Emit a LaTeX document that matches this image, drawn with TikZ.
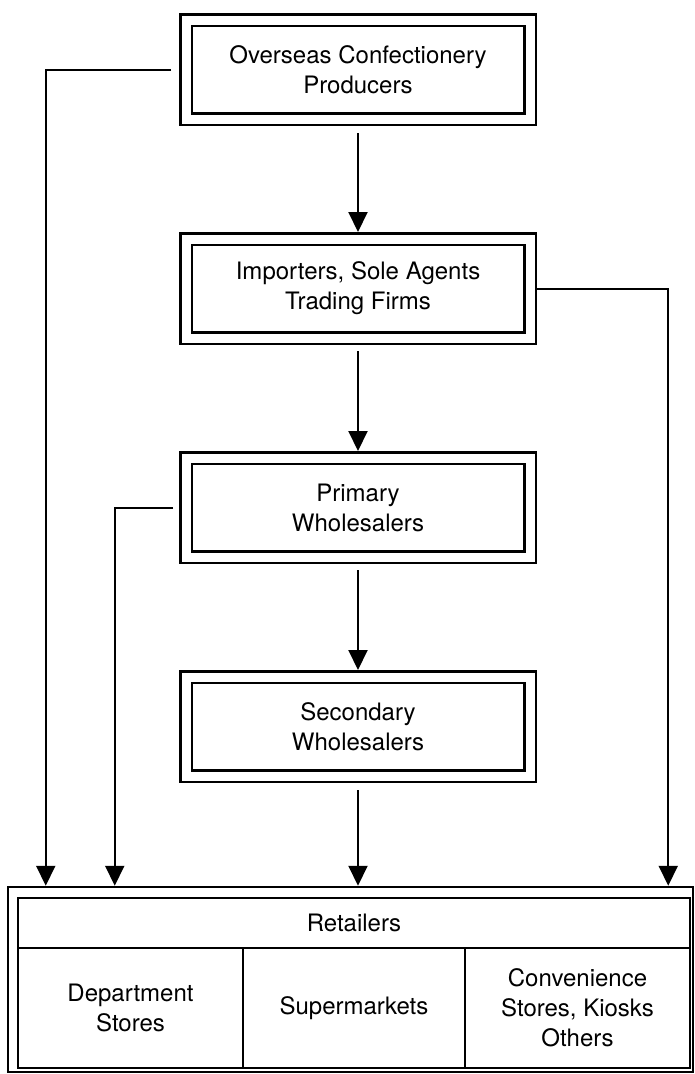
\documentclass[tikz,border=0pt]{standalone}
\usepackage{fontspec}
\setmainfont{TeX Gyre Heros}
\usetikzlibrary{positioning,arrows.meta}

\begin{document}
\begin{tikzpicture}[x=1pt, y=1pt, >={Triangle[width=19pt,length=20pt]},
    node distance=106pt,
    every node/.style={font=\fontsize{24}{30}\selectfont, align=center},
    dbox/.style={draw, double, double distance=9pt, line width=2.5pt,
      minimum width=344pt, minimum height=99pt, outer sep=7pt},
    cell/.style={draw, line width=2.5pt, inner sep=0pt},
    flow/.style={->, line width=2pt}]
  \useasboundingbox (0,0) rectangle (695,-1074);

  % channel boxes
  \node[dbox] (over) at (358,-69.5) {Overseas Confectionery\\Producers};
  \node[dbox] (imp) [below=of over] {Importers, Sole Agents\\Trading Firms};
  \node[dbox] (prim) [below=of imp] {Primary\\Wholesalers};
  \node[dbox] (sec) [below=of prim] {Secondary\\Wholesalers};

  % retailers table
  \node[draw, line width=2.5pt, minimum width=685pt, minimum height=185pt,
    inner sep=0pt] (retail) at (350.5,-979.5) {};
  \node[cell, minimum width=672pt, minimum height=50pt] (head) at (354,-923) {Retailers};
  \node[cell, minimum width=225pt, minimum height=120pt] (dept) at (130.5,-1008) {Department\\Stores};
  \node[cell, minimum width=222pt, minimum height=120pt] (super) at (354,-1008) {Supermarkets};
  \node[cell, minimum width=225pt, minimum height=120pt] (conv) at (577.5,-1008) {Convenience\\Stores, Kiosks\\Others};

  \draw[flow] ([yshift=-7pt]over.south) -- (imp.north);
  \draw[flow] ([yshift=-6pt]imp.south) -- (prim.north);
  \draw[flow] ([yshift=-6pt]prim.south) -- (sec.north);
  \draw[flow] ([yshift=-7pt]sec.south) -- (sec.south |- retail.north);

  % bypass lines
  \draw[flow] ([xshift=-8pt]over.west) -| ([xshift=39pt]retail.north west);
  \draw[flow] (imp.east) -| ([xshift=-26pt]retail.north east);
  \draw[flow] ([xshift=-6pt]prim.west) -| ([xshift=108pt]retail.north west);
\end{tikzpicture}
\end{document}
